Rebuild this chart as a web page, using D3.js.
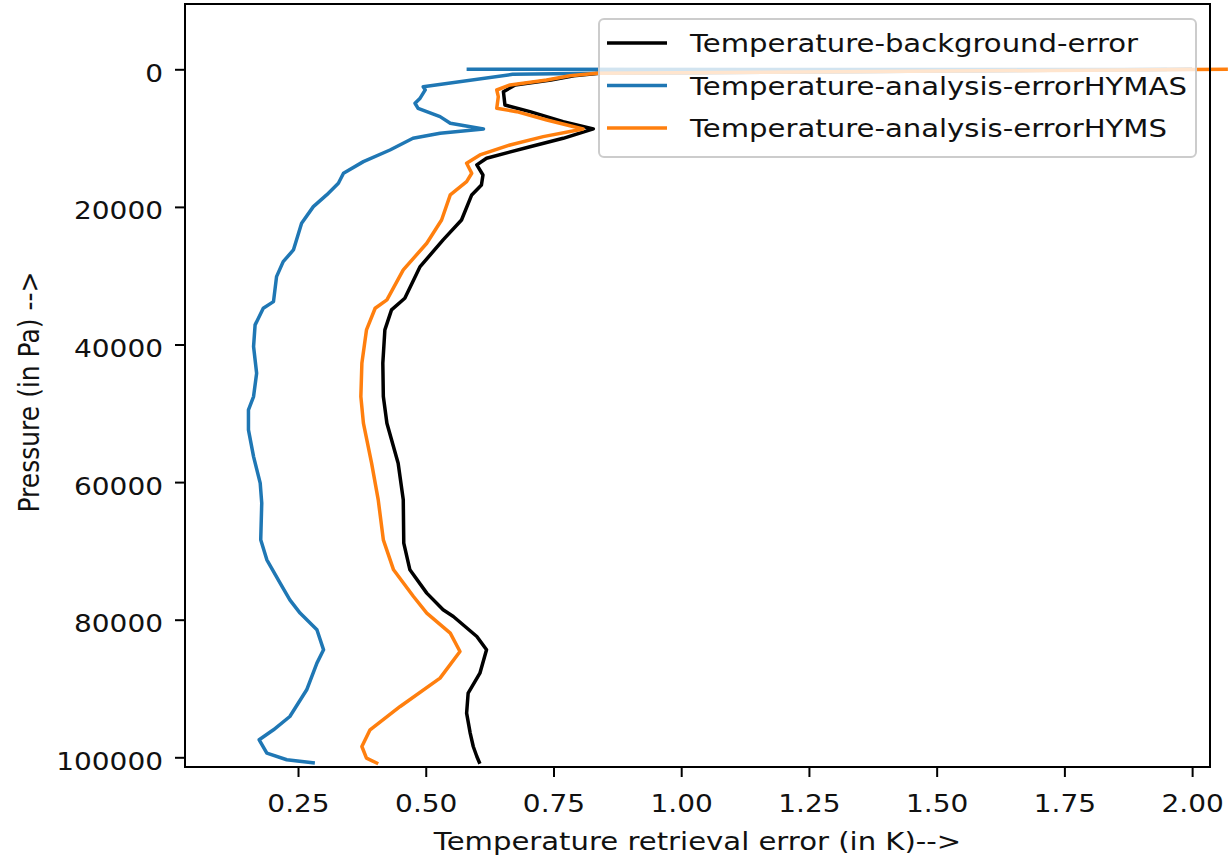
<!DOCTYPE html>
<html>
<head>
<meta charset="utf-8">
<script src="https://cdn.jsdelivr.net/npm/d3@7"></script>
<style>
  body { margin: 0; background: #fff; }
  text { font-family: "DejaVu Sans", sans-serif; }
</style>
</head>
<body>
<div id="chart"></div>
<script>
// data (pressure in Pa, error in K)
const bgPressure = [0, 580, 930, 1550, 2280, 3250, 5190, 6160, 7610, 8670, 10030, 11250, 12930, 13900, 15360, 16810, 18260, 21900, 24800, 28680, 33280, 34970, 37880, 42720, 47570, 51440, 57250, 62580, 68870, 72750, 76140, 78560, 79530, 82440, 84380, 87770, 90670, 93580, 96480, 98430, 99880, 100940];
const bgError = [2.0, 0.84, 0.79, 0.745, 0.675, 0.652, 0.655, 0.704, 0.769, 0.828, 0.769, 0.704, 0.619, 0.60, 0.612, 0.609, 0.59, 0.57, 0.534, 0.489, 0.459, 0.433, 0.42, 0.416, 0.417, 0.424, 0.446, 0.456, 0.457, 0.469, 0.502, 0.534, 0.554, 0.6, 0.619, 0.606, 0.583, 0.58, 0.587, 0.593, 0.6, 0.606];

const hymasPressure = [0, 30, 580, 730, 2530, 3000, 4200, 4940, 5670, 6880, 7850, 8670, 9300, 10030, 11730, 13420, 15110, 16560, 18260, 19960, 22380, 24800, 26260, 27960, 30140, 33770, 34730, 37150, 40300, 44170, 47570, 49500, 52400, 56290, 60150, 63060, 68390, 71300, 74690, 77110, 79040, 81470, 84380, 86310, 90190, 94070, 96000, 97450, 99390, 100360, 100840];
const hymasError = [0.58, 1.95, 0.835, 0.67, 0.495, 0.499, 0.489, 0.479, 0.485, 0.528, 0.548, 0.613, 0.528, 0.475, 0.43, 0.378, 0.339, 0.329, 0.306, 0.28, 0.257, 0.247, 0.241, 0.221, 0.208, 0.202, 0.182, 0.166, 0.163, 0.169, 0.163, 0.153, 0.153, 0.163, 0.176, 0.179, 0.177, 0.189, 0.215, 0.234, 0.254, 0.287, 0.30, 0.287, 0.267, 0.234, 0.202, 0.174, 0.189, 0.228, 0.283];

const hymsPressure = [0, 580, 930, 1550, 2280, 3010, 3980, 5670, 6160, 7370, 8670, 9790, 11000, 12450, 13660, 15110, 16330, 18260, 21900, 25280, 29160, 33520, 34730, 37880, 42720, 47570, 51440, 57250, 62580, 68390, 72750, 76630, 79040, 81950, 84620, 88490, 92610, 96000, 98430, 100110, 100940];
const hymsError = [2.07, 0.835, 0.782, 0.737, 0.665, 0.639, 0.642, 0.639, 0.678, 0.737, 0.808, 0.73, 0.665, 0.606, 0.58, 0.59, 0.58, 0.548, 0.531, 0.502, 0.456, 0.424, 0.401, 0.384, 0.375, 0.373, 0.378, 0.394, 0.407, 0.417, 0.437, 0.476, 0.502, 0.548, 0.567, 0.528, 0.45, 0.391, 0.375, 0.384, 0.407];

const seriesNames = ["Temperature-background-error", "Temperature-analysis-errorHYMAS", "Temperature-analysis-errorHYMS"];
const seriesColors = ["#000000", "#1f77b4", "#ff7f0e"];
const xTicks = [0.25, 0.5, 0.75, 1.0, 1.25, 1.5, 1.75, 2.0];
const yTicks = [0, 20000, 40000, 60000, 80000, 100000];

const width = 1229, height = 859;
const margin = {top: 4, right: 19, bottom: 92, left: 185};
const stretch = 1.12;      // tick labels are a bit wider than tall
const labelStretch = 1.165; // same for the word labels

const series = [
  {name: seriesNames[0], color: seriesColors[0], p: bgPressure, v: bgError},
  {name: seriesNames[1], color: seriesColors[1], p: hymasPressure, v: hymasError},
  {name: seriesNames[2], color: seriesColors[2], p: hymsPressure, v: hymsError}
];

const svg = d3.select("#chart").append("svg")
  .attr("width", width)
  .attr("height", height);

const x = d3.scaleLinear()
  .domain([0.0288, 2.035])
  .range([margin.left, width - margin.right]);

// pressure axis runs downward
const y = d3.scaleLinear()
  .domain([-9490, 101410])
  .range([margin.top, height - margin.bottom]);

const line = d3.line()
  .x(d => x(d[1]))
  .y(d => y(d[0]));

// lines
svg.append("g")
  .selectAll("path")
  .data(series)
  .join("path")
  .attr("d", s => line(d3.zip(s.p, s.v)))
  .attr("fill", "none")
  .attr("stroke", s => s.color)
  .attr("stroke-width", 3.5)
  .attr("stroke-linejoin", "round");

// x axis
const gx = svg.append("g")
  .attr("transform", `translate(0,${height - margin.bottom})`)
  .call(d3.axisBottom(x).tickValues(xTicks).tickFormat(d3.format(".2f")).tickSize(10).tickPadding(17));
gx.select(".domain").remove();
gx.selectAll("line").attr("stroke", "#000").attr("stroke-width", 2);
gx.selectAll("text")
  .attr("fill", "#111")
  .style("font-size", "25px")
  .attr("transform", `scale(${stretch},1)`);

// y axis
const gy = svg.append("g")
  .attr("transform", `translate(${margin.left},0)`)
  .call(d3.axisLeft(y).tickValues(yTicks).tickFormat(d3.format("d")).tickSize(10));
gy.select(".domain").remove();
gy.selectAll("line").attr("stroke", "#000").attr("stroke-width", 2);
gy.selectAll("text")
  .attr("fill", "#111")
  .style("font-size", "25px")
  .attr("x", -22 / stretch)
  .attr("dy", "0.48em")
  .attr("transform", `scale(${stretch},1)`);

// frame
svg.append("rect")
  .attr("x", margin.left)
  .attr("y", margin.top)
  .attr("width", width - margin.left - margin.right)
  .attr("height", height - margin.top - margin.bottom)
  .attr("fill", "none")
  .attr("stroke", "#000")
  .attr("stroke-width", 2);

// axis titles
svg.append("text")
  .attr("transform", `translate(${(margin.left + width - margin.right) / 2},850) scale(${labelStretch},1)`)
  .attr("text-anchor", "middle")
  .attr("fill", "#111")
  .style("font-size", "25px")
  .text("Temperature retrieval error (in K)-->");

svg.append("text")
  .attr("transform", `translate(39,392) rotate(-90) scale(1,${stretch})`)
  .attr("text-anchor", "middle")
  .attr("fill", "#111")
  .style("font-size", "25px")
  .text("Pressure (in Pa) -->");

// legend
const legend = svg.append("g").attr("transform", "translate(599,19)");
legend.append("rect")
  .attr("width", 597)
  .attr("height", 138)
  .attr("rx", 5)
  .attr("fill", "#fff")
  .attr("fill-opacity", 0.8)
  .attr("stroke", "#ccc")
  .attr("stroke-width", 2);

const rows = legend.selectAll("g.row")
  .data(series)
  .join("g")
  .attr("class", "row")
  .attr("transform", (d, i) => `translate(0,${24 + i * 42.5})`);
rows.append("line")
  .attr("x1", 8).attr("x2", 68)
  .attr("stroke", d => d.color)
  .attr("stroke-width", 3.5);
rows.append("text")
  .attr("transform", `translate(91,0) scale(${labelStretch},1)`)
  .attr("dy", "0.36em")
  .attr("fill", "#111")
  .style("font-size", "25px")
  .text(d => d.name);
</script>
</body>
</html>
